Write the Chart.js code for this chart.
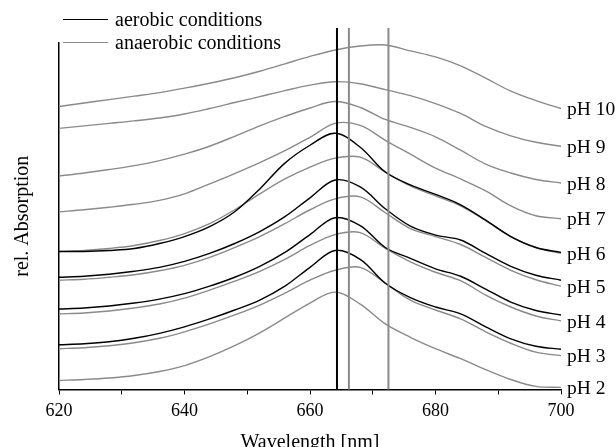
<!DOCTYPE html>
<html>
<head>
<meta charset="utf-8">
<script src="https://cdn.jsdelivr.net/npm/chart.js@4"></script>
<style>
  html, body { margin: 0; padding: 0; background: #fff; overflow: hidden; }
  #wrap { position: relative; width: 616px; height: 447px; overflow: hidden; }
  #legend { position: absolute; left: 63px; top: 8px; font-family: "Liberation Serif", serif; font-size: 20px; color: #000; }
  .row { display: flex; align-items: center; height: 23px; }
  .swatch { width: 45px; height: 0; margin-right: 7px; }
</style>
</head>
<body>
<div id="wrap">
  <canvas id="myChart" width="616" height="453"></canvas>
  <div id="legend"></div>
</div>
<script>
const wavelengths = [620, 624, 628, 632, 636, 640, 644, 648, 652, 656, 660, 664, 668, 672, 676, 680, 684, 688, 692, 696, 700];

// anaerobic (grey) spectra, offset per pH
const anaerobicPH2 = [0.09, 0.10, 0.115, 0.14, 0.18, 0.24, 0.33, 0.44, 0.57, 0.72, 0.87, 0.98, 0.86, 0.66, 0.525, 0.41, 0.31, 0.20, 0.10, 0.03, 0.02];
const anaerobicPH3 = [0.41, 0.42, 0.44, 0.47, 0.515, 0.58, 0.66, 0.75, 0.85, 0.97, 1.10, 1.20, 1.23, 1.07, 0.90, 0.80, 0.71, 0.58, 0.465, 0.375, 0.34];
const anaerobicPH4 = [0.76, 0.77, 0.79, 0.82, 0.86, 0.92, 1.00, 1.09, 1.19, 1.31, 1.45, 1.56, 1.58, 1.42, 1.285, 1.18, 1.095, 0.95, 0.83, 0.74, 0.69];
const anaerobicPH5 = [1.10, 1.11, 1.13, 1.155, 1.195, 1.25, 1.33, 1.43, 1.54, 1.67, 1.81, 1.92, 1.94, 1.78, 1.62, 1.54, 1.46, 1.33, 1.20, 1.105, 1.04];
const anaerobicPH6 = [1.39, 1.40, 1.42, 1.45, 1.50, 1.57, 1.67, 1.81, 1.97, 2.12, 2.24, 2.33, 2.34, 2.19, 2.05, 1.95, 1.85, 1.70, 1.54, 1.43, 1.37];
const anaerobicPH7 = [1.79, 1.81, 1.835, 1.865, 1.905, 1.97, 2.07, 2.175, 2.285, 2.405, 2.54, 2.68, 2.66, 2.51, 2.37, 2.23, 2.12, 2.00, 1.85, 1.75, 1.72];
const anaerobicPH8 = [2.15, 2.18, 2.215, 2.255, 2.305, 2.37, 2.45, 2.55, 2.655, 2.75, 2.835, 2.90, 2.84, 2.72, 2.64, 2.545, 2.41, 2.27, 2.18, 2.115, 2.08];
const anaerobicPH9 = [2.63, 2.655, 2.68, 2.705, 2.735, 2.775, 2.83, 2.89, 2.95, 3.01, 3.065, 3.10, 3.08, 3.02, 2.96, 2.88, 2.78, 2.65, 2.555, 2.49, 2.45];
const anaerobicPH10 = [2.85, 2.885, 2.92, 2.955, 2.99, 3.035, 3.085, 3.14, 3.205, 3.28, 3.355, 3.42, 3.46, 3.47, 3.41, 3.35, 3.26, 3.135, 3.005, 2.91, 2.83];

// aerobic (black) spectra
const aerobicPH3 = [0.45, 0.46, 0.48, 0.515, 0.565, 0.63, 0.71, 0.80, 0.90, 1.04, 1.23, 1.40, 1.31, 1.07, 0.925, 0.83, 0.76, 0.63, 0.51, 0.435, 0.405];
const aerobicPH4 = [0.81, 0.82, 0.84, 0.87, 0.91, 0.965, 1.04, 1.13, 1.24, 1.38, 1.56, 1.73, 1.65, 1.43, 1.32, 1.215, 1.14, 1.01, 0.88, 0.795, 0.75];
const aerobicPH5 = [1.13, 1.14, 1.16, 1.19, 1.23, 1.29, 1.37, 1.47, 1.59, 1.74, 1.93, 2.11, 2.04, 1.82, 1.645, 1.555, 1.505, 1.37, 1.24, 1.15, 1.10];
const aerobicPH6 = [1.39, 1.39, 1.40, 1.42, 1.47, 1.54, 1.64, 1.79, 2.02, 2.28, 2.46, 2.58, 2.44, 2.19, 2.06, 1.965, 1.86, 1.705, 1.54, 1.43, 1.38];

const phLabels = ["pH 2", "pH 3", "pH 4", "pH 5", "pH 6", "pH 7", "pH 8", "pH 9", "pH 10"];
const markerLines = [664.3, 666.2, 672.5];
const markerColors = ["#000000", "#8a8a8a", "#8a8a8a"];
const markerTop = 3.64;

const BLACK = "#000000";
const GREY = "#8a8a8a";
const FONT = "'Liberation Serif', 'Times New Roman', serif";

function toPoints(values) {
  return values.map((v, i) => ({ x: wavelengths[i], y: v }));
}

function curve(label, values, color, extra) {
  return Object.assign({
    label: label,
    data: toPoints(values),
    borderColor: color,
    borderWidth: 1.4,
    pointRadius: 0,
    tension: 0.35,
    fill: false,
    clip: false,
  }, extra || {});
}

const datasets = [];
markerLines.forEach((x, i) => {
  datasets.push({
    label: "marker " + x,
    data: [{ x: x, y: 0 }, { x: x, y: markerTop }],
    borderColor: markerColors[i],
    borderWidth: 2,
    pointRadius: 0,
    clip: false,
  });
});
[aerobicPH3, aerobicPH4, aerobicPH5, aerobicPH6].forEach((vals) => {
  datasets.push(curve("aerobic conditions", vals, BLACK));
});
const anaerobic = [anaerobicPH2, anaerobicPH3, anaerobicPH4, anaerobicPH5, anaerobicPH6, anaerobicPH7, anaerobicPH8, anaerobicPH9, anaerobicPH10];
anaerobic.forEach((vals, i) => {
  datasets.push(curve("anaerobic conditions", vals, GREY, { phLabel: phLabels[i] }));
});

// draws "pH x" next to the end of each grey curve
const phLabelPlugin = {
  id: "phLabels",
  afterDatasetsDraw(chart) {
    const ctx = chart.ctx;
    ctx.save();
    ctx.font = "19.5px " + FONT;
    ctx.fillStyle = "#000";
    ctx.textBaseline = "middle";
    ctx.textAlign = "left";
    chart.data.datasets.forEach((ds, i) => {
      if (!ds.phLabel) return;
      const pts = chart.getDatasetMeta(i).data;
      const last = pts[pts.length - 1];
      ctx.fillText(ds.phLabel, last.x + 6, last.y + 1.5);
    });
    ctx.restore();
  },
};

const ctx = document.getElementById("myChart").getContext("2d");
window.myChart = new Chart(ctx, {
  type: "line",
  data: { datasets: datasets },
  plugins: [phLabelPlugin],
  options: {
    responsive: false,
    animation: false,
    layout: { padding: { left: 9, right: 55, top: 43, bottom: 0 } },
    plugins: {
      legend: { display: false },
      tooltip: { enabled: false },
    },
    scales: {
      x: {
        type: "linear",
        min: 620,
        max: 700,
        ticks: {
          stepSize: 10,
          autoSkip: false,
          maxRotation: 0,
          padding: 6,
          color: "#000",
          font: { family: FONT, size: 18 },
          callback: (value) => (value % 20 === 0 ? value : ""),
        },
        grid: {
          display: true,
          drawOnChartArea: false,
          drawTicks: true,
          tickLength: 5,
          tickColor: "#000",
          tickWidth: 1,
        },
        border: { display: true, color: "#000", width: 1.5 },
        title: {
          display: true,
          text: "Wavelength [nm]",
          color: "#000",
          font: { family: FONT, size: 20, lineHeight: 1 },
          padding: { top: 5, bottom: 0 },
        },
      },
      y: {
        min: 0,
        max: 3.49,
        ticks: { display: false },
        grid: { display: false, drawTicks: false },
        border: { display: true, color: "#000", width: 1.5 },
        title: {
          display: true,
          text: "rel. Absorption",
          color: "#000",
          font: { family: FONT, size: 20 },
          padding: { top: 2, bottom: 24 },
        },
      },
    },
  },
});

// legend as html text
const legendItems = [
  { label: "aerobic conditions", color: BLACK },
  { label: "anaerobic conditions", color: GREY },
];
const legendEl = document.getElementById("legend");
legendItems.forEach((item) => {
  const row = document.createElement("div");
  row.className = "row";
  const sw = document.createElement("span");
  sw.className = "swatch";
  sw.style.borderTop = "1.5px solid " + item.color;
  const txt = document.createElement("span");
  txt.textContent = item.label;
  row.appendChild(sw);
  row.appendChild(txt);
  legendEl.appendChild(row);
});
</script>
</body>
</html>
